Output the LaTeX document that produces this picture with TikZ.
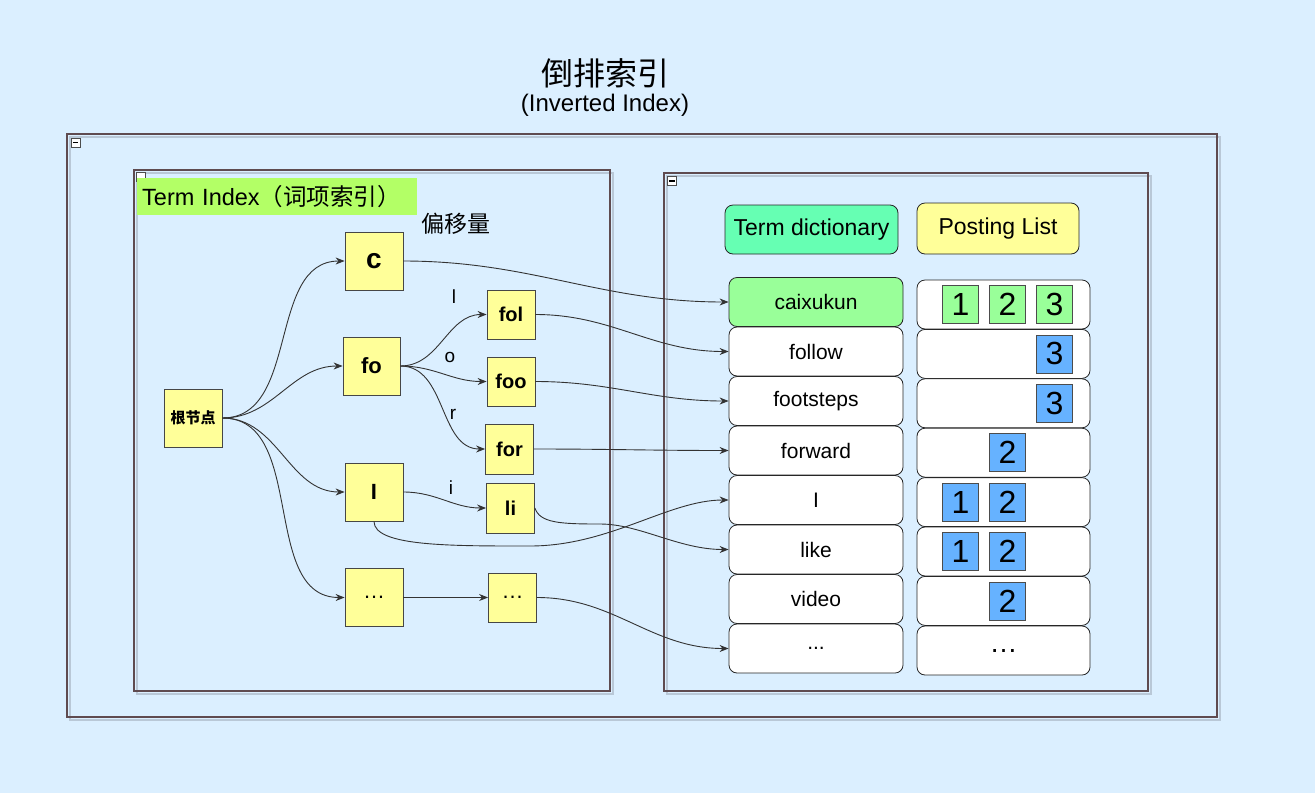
\documentclass[tikz,border=0pt]{standalone}
\usepackage{fontspec}
\setmainfont{Liberation Sans}
\newfontfamily\cjk{Noto Sans CJK SC}
\usepackage{xcolor}
\usetikzlibrary{arrows.meta,positioning,calc}
\definecolor{bgblue}{RGB}{219,239,255}
\definecolor{frameline}{RGB}{95,75,80}
\definecolor{frameshade}{RGB}{185,200,215}
\definecolor{notey}{RGB}{255,255,153}
\definecolor{noteline}{RGB}{70,70,70}
\definecolor{tagg}{RGB}{179,255,102}
\definecolor{mint}{RGB}{102,255,179}
\definecolor{lgreen}{RGB}{153,255,153}
\definecolor{docblue}{RGB}{102,178,255}
\newcommand{\fsz}[1]{\fontsize{#1}{#1}\selectfont}

\begin{document}
\begin{tikzpicture}[x=1pt,y=-1pt,>={Stealth[length=9pt,width=7pt]},
 link/.style={->,line width=0.9pt,draw=black!80},
 frame/.style={draw=frameline,line width=1.2pt},
 shade/.style={draw=frameshade,line width=1.6pt},
 trie/.style={draw=noteline,fill=notey,line width=0.8pt,inner sep=0pt,
   minimum width=58pt,minimum height=58pt,font=\fsz{22}\bfseries},
 leaf/.style={trie,minimum width=48pt,minimum height=49pt,font=\fsz{20}\bfseries},
 dict/.style={draw=black!85,fill=white,rounded corners=8pt,line width=0.8pt,
   minimum width=174pt,minimum height=49pt,inner sep=0pt,font=\fsz{21}},
 post/.style={dict,minimum width=173pt},
 doc/.style={draw=black!70,line width=0.8pt,minimum width=36pt,minimum height=38pt,
   inner sep=0pt,font=\fsz{32}},
 head/.style={draw=black!85,rounded corners=8pt,line width=0.8pt,inner sep=0pt,
   minimum height=49pt,font=\fsz{23}},
 edgechar/.style={font=\fsz{19}},
 fold/.style={draw=black!70,fill=white,line width=0.5pt,minimum size=9pt,inner sep=0pt}]
\useasboundingbox[fill=bgblue] (0,0) rectangle (1315,793);

% Title
\node[font=\cjk\fsz{32}] (title) at (605,73) {倒排索引};
\node[font=\fsz{24}] (subtitle) at (605,105) {(Inverted Index)};

% Containers
\draw[shade] (70,137) rectangle (1220,720);
\draw[frame] (67,134) rectangle (1217,717);
\draw[shade] (137,173) rectangle (613,694);
\draw[frame] (134,170) rectangle (610,691);
\draw[shade] (667,176) rectangle (1151,694);
\draw[frame] (664,173) rectangle (1148,691);
\node[fold] (fold1) at (75.5,142.5) {};
\node[fold] (fold2) at (141,177) {};
\node[fold] (fold3) at (672,181) {};
\foreach \f in {fold1,fold3}
  \draw[line width=1.2pt] ([xshift=2pt]\f.west) -- ([xshift=-2pt]\f.east);

% Term index (trie)
\node[fill=tagg,anchor=west,text width=270pt,inner sep=5pt,minimum height=37pt,
 font=\fsz{23.5}] (tag) at (137,196.5) {Term Index{\cjk（词项索引）}};
\node[font=\cjk\fsz{23}] (offset) at (456,224) {偏移量};

\node[trie,font=\cjk\fsz{15}\bfseries] (root) at (193,418) {根节点};
\node[trie,font=\fsz{28}\bfseries] (c) at (374,261) {c};
\node[trie,minimum width=57pt] (fo) at (371.5,366) {fo};
\node[trie] (I) at (374,492) {I};
\node[trie,font=\fsz{22}] (more1) at (374,597.5) {…};
\node[leaf] (fol) at (511,314.5) {fol};
\node[leaf] (foo) at (511,381.5) {foo};
\node[leaf,minimum height=50pt] (for) at (509.5,449) {for};
\node[leaf,minimum height=50pt] (li) at (510.5,508) {li};
\node[leaf,font=\fsz{22}] (more2) at (512.5,597.5) {…};

\node[edgechar] (kl) at (454,297) {l};
\node[edgechar] (ko) at (450,357) {o};
\node[edgechar] (kr) at (453,414) {r};
\node[edgechar] (ki) at (451,488) {i};

\foreach \n in {c,fo,I,more1}
  \draw[link] (root.east) to[out=0,in=180] (\n.west);
\foreach \n in {fol,foo,for}
  \draw[link] (fo.east) to[out=0,in=180] (\n.west);
\draw[link] (I.east) to[out=0,in=180] (li.west);
\draw[link] (more1.east) -- (more2.west);

% Term dictionary and posting list
\node[head,fill=mint,minimum width=173pt] (dhead) at (811.5,229.5) {Term dictionary};
\node[head,fill=notey,minimum width=162pt,minimum height=51pt] (phead) at (998,228.5) {Posting List};

\node[dict,fill=lgreen] (d1) at (816,302) {caixukun};
\foreach \t [count=\i from 2] in {follow,footsteps,forward,I,like,video}
  \node[dict] (d\i) at (816,{302+49.5*(\i-1)}) {\t};
\node[dict] (d8) at (816,648.5) {...};

\foreach \i in {1,...,7}
  \node[post] (p\i) at (1003.5,{304.5+49.4*(\i-1)}) {};
\node[post,font=\fsz{28}] (p8) at (1003.5,650.5) {…};

\foreach \c in {1,2,3}
  \node[doc,fill=lgreen] (s1\c) at ([xshift={(47*\c-90)*1pt}]p1.center) {\c};
\foreach \r/\c in {2/3,3/3,4/2,5/1,5/2,6/1,6/2,7/2}
  \node[doc,fill=docblue] (s\r\c) at ([xshift={(47*\c-90)*1pt}]p\r.center) {\c};

% Offsets into the dictionary
\draw[link] (c.east) to[out=0,in=180] (d1.west);
\draw[link] (fol.east) to[out=0,in=180] (d2.west);
\draw[link] (foo.east) to[out=0,in=180] (d3.west);
\draw[link] (for.east) to[out=0,in=180] (d4.west);
\draw[link] (I.south) .. controls +(0,25) and +(-80,0) .. (530,546)
  .. controls +(80,0) and +(-60,0) .. (d5.west);
\draw[link] (li.east) .. controls +(5,15) and +(-40,0) .. (600,524)
  .. controls +(40,0) and +(-50,0) .. (d6.west);
\draw[link] (more2.east) to[out=0,in=180] (d8.west);
\end{tikzpicture}
\end{document}
